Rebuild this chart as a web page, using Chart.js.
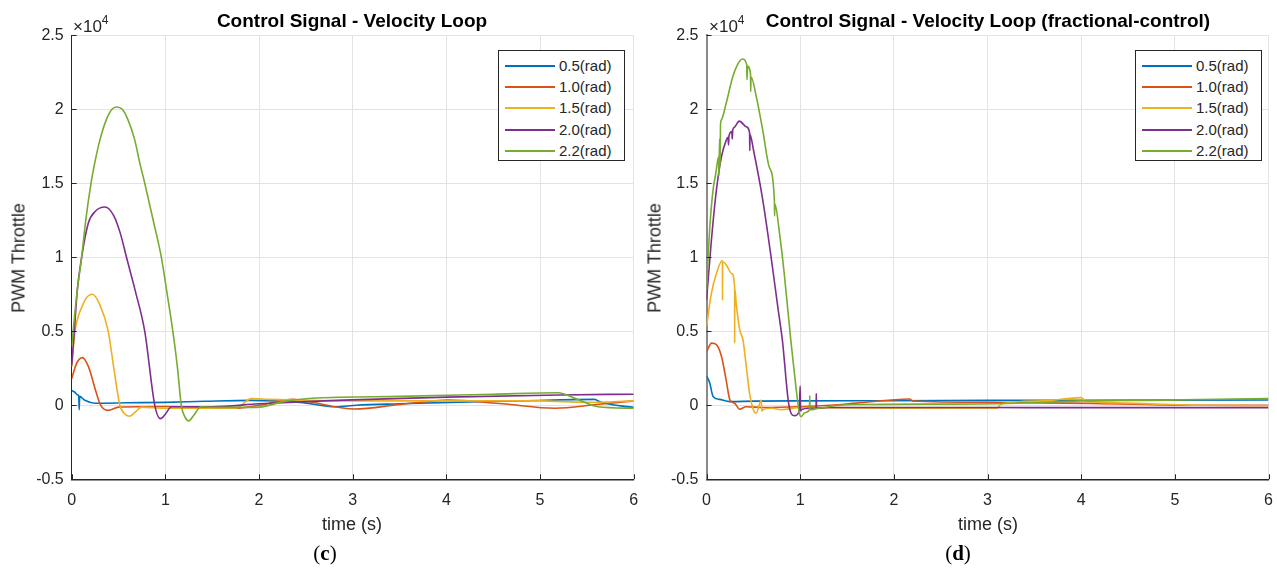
<!DOCTYPE html>
<html>
<head>
<meta charset="utf-8">
<script src="https://cdn.jsdelivr.net/npm/chart.js@4.4.1/dist/chart.umd.min.js"></script>
<style>
  body { margin: 0; background: #fff; width: 1277px; height: 574px; overflow: hidden; position: relative;
         font-family: "Liberation Sans", Arial, sans-serif; color: #262626; }
  .panel { position: absolute; top: 0; height: 574px; }
  .panel canvas { position: absolute; left: 0; top: 0; }
  .title { position: absolute; top: 10px; font-weight: bold; font-size: 19px; color: #000; white-space: nowrap; transform: translateX(-50%); }
  .exp { position: absolute; top: 14px; font-size: 17px; white-space: nowrap; }
  .exp sup { font-size: 12px; position: relative; top: -1px; }
  .ylab { position: absolute; top: 258px; font-size: 18px; white-space: nowrap; transform: translate(-50%, -50%) rotate(-90deg); }
  .xlab { position: absolute; top: 514px; font-size: 18px; white-space: nowrap; transform: translateX(-50%); }
  .sub { position: absolute; top: 541px; font-family: "Liberation Serif", "DejaVu Serif", serif; font-size: 21px; color: #000; transform: translateX(-50%); }
  .sub b { font-weight: bold; }
  .legend { position: absolute; top: 50px; width: 127px; height: 111px; border: 1px solid #262626; background: #fff; box-sizing: border-box; }
  .legend .row { position: absolute; left: 0; height: 20px; width: 100%; }
  .legend .swatch { position: absolute; left: 6px; top: 9px; width: 50px; height: 2px; }
  .legend .txt { position: absolute; left: 60px; top: 1px; font-size: 15px; white-space: nowrap; }
</style>
</head>
<body>

<div class="panel" id="panelC" style="left:0;width:640px;">
  <canvas id="chartC" width="640" height="574"></canvas>
  <div class="title" style="left:352px;">Control Signal - Velocity Loop</div>
  <div class="exp" style="left:73px;">×10<sup>4</sup></div>
  <div class="ylab" style="left:19px;">PWM Throttle</div>
  <div class="xlab" style="left:352px;">time (s)</div>
  <div class="legend" id="legendC" style="left:498px;"></div>
  <div class="sub" style="left:325px;">(<b>c</b>)</div>
</div>

<div class="panel" id="panelD" style="left:640px;width:637px;">
  <canvas id="chartD" width="637" height="574"></canvas>
  <div class="title" style="left:348px;">Control Signal - Velocity Loop (fractional-control)</div>
  <div class="exp" style="left:69px;">×10<sup>4</sup></div>
  <div class="ylab" style="left:15px;">PWM Throttle</div>
  <div class="xlab" style="left:348px;">time (s)</div>
  <div class="legend" id="legendD" style="left:495px;"></div>
  <div class="sub" style="left:318px;">(<b>d</b>)</div>
</div>

<script>
// axis ticks (PWM values are in units of 1e4)
const timeTicks = [0, 1, 2, 3, 4, 5, 6];
const pwmTicks = [-0.5, 0, 0.5, 1, 1.5, 2, 2.5];

const angleLabels = ['0.5(rad)', '1.0(rad)', '1.5(rad)', '2.0(rad)', '2.2(rad)'];
const lineColors = ['#0072BD', '#D95319', '#EDB120', '#7E2F8E', '#77AC30'];

// ---- (c) standard controller ----
const cTime05 = [0, 0.03, 0.07, 0.075, 0.08, 0.085, 0.14, 0.25, 0.6, 1.0, 1.42, 1.91, 2.44, 2.82, 3.04, 3.5, 4.04, 4.8, 5.58, 5.65, 6];
const cPwm05  = [0.10, 0.09, 0.068, 0.07, -0.03, 0.06, 0.034, 0.014, 0.017, 0.02, 0.027, 0.033, 0.02, -0.01, 0.0, 0.01, 0.02, 0.03, 0.04, 0.02, -0.015];

const cTime10 = [0, 0.05, 0.113, 0.18, 0.255, 0.31, 0.39, 0.5, 1.0, 1.5, 1.75, 2.0, 2.36, 2.45, 3.02, 3.5, 4.02, 4.6, 5.16, 5.6, 6];
const cPwm10  = [0.18, 0.28, 0.322, 0.26, 0.10, 0.0, -0.034, -0.012, -0.008, -0.015, -0.02, 0.0, 0.04, 0.035, -0.025, 0.005, 0.035, 0.01, -0.02, 0.005, 0.03];

const cTime15 = [0, 0.035, 0.08, 0.106, 0.15, 0.22, 0.3, 0.39, 0.45, 0.514, 0.57, 0.62, 0.68, 0.745, 1.0, 1.75, 1.92, 2.1, 2.4, 3.0, 4.0, 5.0, 5.5, 6];
const cPwm15  = [0.26, 0.5, 0.62, 0.66, 0.72, 0.75, 0.68, 0.5, 0.25, 0.0, -0.06, -0.074, -0.045, -0.012, -0.02, -0.02, 0.045, 0.04, 0.035, 0.03, 0.03, 0.03, 0.02, 0.03];

const cTime20 = [0, 0.028, 0.06, 0.106, 0.177, 0.25, 0.355, 0.45, 0.52, 0.585, 0.68, 0.78, 0.887, 0.947, 1.0, 1.064, 1.5, 2.0, 2.5, 2.9, 4.0, 5.2, 6];
const cPwm20  = [0.27, 0.5, 0.78, 1.0, 1.23, 1.31, 1.34, 1.28, 1.16, 1.0, 0.77, 0.5, 0.0, -0.09, -0.06, -0.01, -0.01, 0.01, 0.025, 0.035, 0.055, 0.07, 0.075];

const cTime22 = [0, 0.03, 0.06, 0.106, 0.15, 0.206, 0.25, 0.30, 0.37, 0.43, 0.48, 0.54, 0.6, 0.67, 0.73, 0.78, 0.87, 0.957, 1.02, 1.08, 1.13, 1.17, 1.21, 1.25, 1.3, 1.38, 1.5, 1.97, 2.3, 2.68, 3.5, 4.5, 5.19, 5.4, 5.62, 6];
const cPwm22  = [0.40, 0.6, 0.78, 1.0, 1.25, 1.5, 1.65, 1.79, 1.93, 2.0, 2.016, 2.0, 1.93, 1.8, 1.63, 1.5, 1.25, 1.0, 0.75, 0.5, 0.25, 0.0, -0.08, -0.106, -0.07, -0.01, -0.014, -0.014, 0.03, 0.051, 0.06, 0.075, 0.085, 0.04, -0.01, -0.02];

// ---- (d) fractional controller ----
const dTime05 = [0, 0.035, 0.07, 0.14, 0.25, 0.5, 1, 2, 3, 4, 5, 6];
const dPwm05  = [0.2, 0.15, 0.06, 0.04, 0.025, 0.028, 0.03, 0.031, 0.033, 0.034, 0.035, 0.036];

const dTime10 = [0, 0.053, 0.106, 0.16, 0.21, 0.25, 0.3, 0.355, 0.42, 0.6, 1.0, 1.32, 1.6, 2.17, 2.2, 3.0, 4.12, 5.25, 6];
const dPwm10  = [0.36, 0.42, 0.41, 0.33, 0.17, 0.036, 0.014, -0.027, -0.01, -0.015, -0.01, 0.0, 0.015, 0.043, 0.029, 0.02, 0.013, 0.0, 0.0];

const dTime15 = [0, 0.053, 0.106, 0.17, 0.171, 0.172, 0.21, 0.27, 0.3, 0.301, 0.302, 0.32, 0.355, 0.39, 0.425, 0.46, 0.5, 0.53, 0.585, 0.59, 0.6, 0.7, 0.8, 1.0, 2.0, 3.1, 3.15, 3.6, 4.0, 4.05, 4.5, 4.9, 5.25, 6];
const dPwm15  = [0.53, 0.76, 0.89, 0.98, 0.71, 0.97, 0.95, 0.89, 0.8, 0.42, 0.79, 0.67, 0.51, 0.44, 0.26, 0.08, -0.03, -0.054, 0.036, -0.04, -0.03, -0.02, -0.03, -0.015, -0.02, -0.02, 0.01, 0.03, 0.052, 0.03, 0.015, 0.006, 0.0, -0.003];

const dTime20 = [0, 0.053, 0.106, 0.16, 0.21, 0.23, 0.235, 0.24, 0.27, 0.275, 0.28, 0.3, 0.35, 0.43, 0.46, 0.462, 0.465, 0.5, 0.6, 0.69, 0.76, 0.81, 0.88, 0.94, 0.99, 1.0, 1.005, 1.01, 1.1, 1.17, 1.172, 1.175, 1.3, 2, 3, 4, 5, 6];
const dPwm20  = [0.71, 1.12, 1.455, 1.68, 1.79, 1.81, 1.76, 1.82, 1.85, 1.8, 1.86, 1.88, 1.92, 1.88, 1.84, 1.72, 1.83, 1.73, 1.39, 1.0, 0.67, 0.44, 0.0, -0.07, -0.04, 0.13, -0.04, -0.03, -0.02, -0.02, 0.08, -0.02, -0.015, -0.015, -0.015, -0.016, -0.016, -0.016];

const dTime22 = [0, 0.035, 0.07, 0.1, 0.13, 0.132, 0.14, 0.145, 0.15, 0.16, 0.21, 0.28, 0.33, 0.383, 0.43, 0.432, 0.44, 0.47, 0.472, 0.475, 0.53, 0.6, 0.67, 0.725, 0.727, 0.73, 0.78, 0.83, 0.9, 0.95, 0.99, 1.01, 1.05, 1.1, 1.102, 1.105, 1.2, 1.42, 1.6, 2.5, 3.1, 4.0, 4.9, 6];
const dPwm22  = [0.78, 1.2, 1.455, 1.57, 1.68, 1.55, 1.8, 1.62, 1.9, 1.93, 2.04, 2.22, 2.3, 2.34, 2.3, 2.2, 2.29, 2.24, 2.12, 2.22, 2.09, 1.86, 1.61, 1.38, 1.28, 1.36, 1.16, 0.89, 0.44, 0.15, -0.05, -0.077, -0.05, -0.03, 0.065, -0.03, -0.02, 0.0, 0.005, 0.008, 0.01, 0.03, 0.035, 0.046];

const seriesC = [[cTime05, cPwm05], [cTime10, cPwm10], [cTime15, cPwm15], [cTime20, cPwm20], [cTime22, cPwm22]];
const seriesD = [[dTime05, dPwm05], [dTime10, dPwm10], [dTime15, dPwm15], [dTime20, dPwm20], [dTime22, dPwm22]];

const PLOT_TOP = 35.3;
const PLOT_BOTTOM = 479.3;

// short inward tick marks on the left and bottom axes
const innerTicks = {
  id: 'innerTicks',
  afterDatasetsDraw(chart) {
    const { ctx, chartArea: a, scales: { x, y } } = chart;
    ctx.save();
    ctx.strokeStyle = '#262626';
    ctx.lineWidth = 1;
    ctx.beginPath();
    timeTicks.forEach(t => {
      const px = Math.round(x.getPixelForValue(t)) + 0.5;
      ctx.moveTo(px, a.bottom);
      ctx.lineTo(px, a.bottom - 5);
    });
    pwmTicks.forEach(v => {
      const py = Math.round(y.getPixelForValue(v)) + 0.5;
      ctx.moveTo(a.left, py);
      ctx.lineTo(a.left + 5, py);
    });
    ctx.stroke();
    ctx.restore();
  }
};

function buildLegend(id) {
  const box = document.getElementById(id);
  box.innerHTML = angleLabels.map((lab, i) => `
    <div class="row" style="top:${5 + i * 21.2}px">
      <div class="swatch" style="background:${lineColors[i]}"></div>
      <div class="txt">${lab}</div>
    </div>`).join('');
}

function makeChart(canvasId, series, plotLeft, plotRight, yAxisColor, yAxisWidth) {
  const canvas = document.getElementById(canvasId);
  const tickFont = { family: '"Liberation Sans", Arial, sans-serif', size: 16 };
  return new Chart(canvas.getContext('2d'), {
    type: 'line',
    data: {
      datasets: series.map((s, i) => ({
        label: angleLabels[i],
        data: s[0].map((t, k) => ({ x: t, y: s[1][k] })),
        borderColor: lineColors[i],
        backgroundColor: lineColors[i],
        borderWidth: 1.6,
        pointRadius: 0,
        cubicInterpolationMode: 'monotone',
        fill: false,
        order: 5 - i
      }))
    },
    options: {
      responsive: false,
      animation: false,
      devicePixelRatio: 1,
      layout: { padding: { left: 0, right: canvas.width - plotRight, top: PLOT_TOP, bottom: 0 } },
      plugins: { legend: { display: false }, tooltip: { enabled: false }, title: { display: false } },
      scales: {
        x: {
          type: 'linear',
          min: 0, max: 6,
          afterBuildTicks: s => { s.ticks = timeTicks.map(v => ({ value: v })); },
          afterFit: s => {
            s.height = canvas.height - PLOT_BOTTOM;
            // the end labels fit inside the layout padding
            s.paddingLeft = 0;
            s.paddingRight = 0;
          },
          ticks: { color: '#262626', font: tickFont, padding: 12, maxRotation: 0, callback: v => String(v) },
          grid: { color: '#e3e3e3', lineWidth: 1, drawTicks: false },
          border: { color: '#262626', width: 1.5 }
        },
        y: {
          type: 'linear',
          min: -0.5, max: 2.5,
          afterBuildTicks: s => { s.ticks = pwmTicks.map(v => ({ value: v })); },
          afterFit: s => { s.width = plotLeft; s.paddingTop = 0; s.paddingBottom = 0; },
          ticks: { color: '#262626', font: tickFont, padding: 8, callback: v => String(v) },
          grid: { color: '#e3e3e3', lineWidth: 1, drawTicks: false },
          border: { color: yAxisColor, width: yAxisWidth }
        }
      }
    },
    plugins: [innerTicks]
  });
}

buildLegend('legendC');
buildLegend('legendD');
makeChart('chartC', seriesC, 71.7, 633.7, '#262626', 1);
makeChart('chartD', seriesD, 66.5, 628.5, '#8a8a8a', 2);
</script>
</body>
</html>
